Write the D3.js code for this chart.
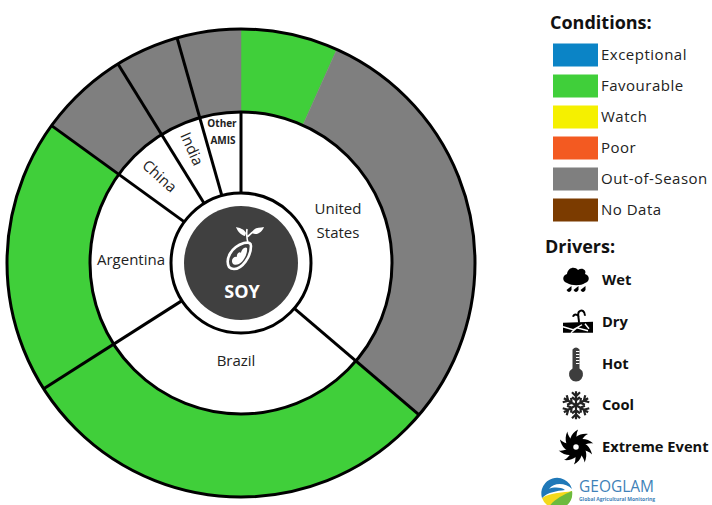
<!DOCTYPE html>
<html>
<head>
<meta charset="utf-8">
<script src="https://cdn.jsdelivr.net/npm/d3@7"></script>
<style>
  body { margin: 0; background: #fff; }
  text { font-family: "Open Sans", sans-serif; fill: #222; }
</style>
</head>
<body>
<svg id="chart" width="712" height="505"></svg>
<script>
// share of world soy production
var countries = ["United States", "Brazil", "Argentina", "China", "India", "Other AMIS"];
var shares = [36.2, 29.7, 19.0, 6.2, 4.4, 4.4];

// outer ring: condition pieces in clockwise order, same units as shares
var pieceConditions = ["Favourable", "Out-of-Season", "Favourable", "Favourable", "Out-of-Season", "Out-of-Season", "Out-of-Season"];
var pieceShares = [6.7, 29.5, 29.7, 19.0, 6.2, 4.4, 4.4];

var conditions = ["Exceptional", "Favourable", "Watch", "Poor", "Out-of-Season", "No Data"];
var conditionColors = ["#0b84c6", "#40cf3a", "#f5f000", "#f35a21", "#7f7f7f", "#7b3b00"];
var drivers = ["Wet", "Dry", "Hot", "Cool", "Extreme Event"];

var svg = d3.select("svg#chart");
var wheel = svg.append("g").attr("transform", "translate(241,263)");

var color = d3.scaleOrdinal().domain(conditions).range(conditionColors);
var pie = d3.pie().sort(null).value(function (d) { return d; });

var outerR = 234, midR = 151, innerR = 70, hubR = 57;

// rings
var outerArc = d3.arc().innerRadius(midR).outerRadius(outerR);
wheel.selectAll(".piece")
  .data(pie(pieceShares))
  .enter().append("path")
  .attr("class", "piece")
  .attr("d", outerArc)
  .attr("fill", function (d, i) { return color(pieceConditions[i]); })
  .attr("stroke", function (d, i) { return color(pieceConditions[i]); })
  .attr("stroke-width", 0.5);

var countryArcs = pie(shares);

// dividers between countries, the one at 12 o'clock stops at the inner ring
wheel.selectAll(".divider")
  .data(countryArcs)
  .enter().append("line")
  .attr("class", "divider")
  .attr("x1", function (d) { return d3.pointRadial(d.endAngle, innerR)[0]; })
  .attr("y1", function (d) { return d3.pointRadial(d.endAngle, innerR)[1]; })
  .attr("x2", function (d, i) { return d3.pointRadial(d.endAngle, i == 5 ? midR : outerR)[0]; })
  .attr("y2", function (d, i) { return d3.pointRadial(d.endAngle, i == 5 ? midR : outerR)[1]; })
  .attr("stroke", "#000")
  .attr("stroke-width", 3);

[outerR, midR, innerR].forEach(function (r) {
  wheel.append("circle").attr("r", r).attr("fill", "none").attr("stroke", "#000").attr("stroke-width", 3);
});
wheel.append("circle").attr("r", hubR).attr("fill", "#404040");

// country labels
function label(lines, x, y, size, rotate, weight) {
  var t = svg.append("text")
    .attr("text-anchor", "middle")
    .attr("font-size", size)
    .attr("font-weight", weight || 400)
    .attr("transform", "translate(" + x + "," + y + ") rotate(" + rotate + ")");
  lines.forEach(function (s, i) {
    t.append("tspan").attr("x", 0).attr("dy", i ? size * 1.6 : 0).text(s);
  });
}
label(["United", "States"], 338, 214, 15, 0);
label(["Brazil"], 236, 366, 15, 0);
label(["Argentina"], 131, 265, 15, 0);
label(["China"], 156, 180, 15, 42);
label(["India"], 187, 151, 15, 66);
label(["Other"], 222, 127, 10, 0, 700);
label(["AMIS"], 223, 144, 10, 0, 700);

// hub
svg.append("text").attr("x", 242).attr("y", 298).attr("text-anchor", "middle")
  .attr("font-size", 18).attr("font-weight", 700).style("fill", "#fff").text("SOY");

var soy = svg.append("g").attr("transform", "translate(240,255)");
soy.append("path")
  .attr("d", "M-11,12 C-15,4 -9,-8 4,-12 C9,-13 11,-12 11,-9 C11,2 2,14 -6,14 C-8,14 -10,13 -11,12 Z")
  .attr("fill", "none").attr("stroke", "#fff").attr("stroke-width", 2.6);
soy.append("path")
  .attr("d", "M-7,9 C-10,5 -6,1 -3,2 C-4,-1 0,-4 1,-2 C1,-5 5,-9 7,-7 C8,-1 3,7 -1,9 C-3,10 -6,10 -7,9 Z")
  .attr("fill", "#fff");
soy.append("path")
  .attr("d", "M8,-12 C7,-16 6,-20 7,-26 M7,-18 C10,-20 11,-22 13,-23")
  .attr("fill", "none").attr("stroke", "#fff").attr("stroke-width", 1.6);
soy.append("path").attr("d", "M12,-23 C15,-28 19,-27 24,-28 C22,-23 17,-19 12,-22 Z").attr("fill", "#fff");
soy.append("path").attr("d", "M5,-19 C0,-20 -3,-25 -4,-28 C0,-27 4,-26 6,-22 Z").attr("fill", "#fff");

// conditions legend
svg.append("text").attr("x", 550).attr("y", 29).attr("font-size", 18).attr("font-weight", 700)
  .style("fill", "#111").text("Conditions:");

var rowY = d3.scalePoint().domain(conditions).range([55, 210]);
svg.selectAll(".swatch")
  .data(conditions)
  .enter().append("rect")
  .attr("class", "swatch")
  .attr("x", 553)
  .attr("y", function (d) { return rowY(d) - 11.5; })
  .attr("width", 45)
  .attr("height", 23)
  .attr("fill", function (d) { return color(d); });
svg.selectAll(".cond-label")
  .data(conditions)
  .enter().append("text")
  .attr("class", "cond-label")
  .attr("x", 601)
  .attr("y", function (d) { return rowY(d) + 5; })
  .attr("font-size", 15)
  .attr("letter-spacing", 0.5)
  .text(function (d) { return d; });

// drivers legend
svg.append("text").attr("x", 545).attr("y", 253).attr("font-size", 18).attr("font-weight", 700)
  .style("fill", "#111").text("Drivers:");

var driverY = d3.scalePoint().domain(drivers).range([280, 447]);
svg.selectAll(".driver-label")
  .data(drivers)
  .enter().append("text")
  .attr("class", "driver-label")
  .attr("x", 602)
  .attr("y", function (d) { return driverY(d) + 5; })
  .attr("font-size", 14.7)
  .attr("font-weight", 700)
  .style("fill", "#111")
  .text(function (d) { return d; });

function icon(name) {
  return svg.append("g").attr("transform", "translate(576," + driverY(name) + ")");
}

// wet
var wet = icon("Wet");
wet.append("path")
  .attr("d", "M-9,3 C-14,2 -14,-5 -9,-6 C-8,-13 -1,-14 2,-10 C6,-13 11,-10 9,-6 C14,-5 14,2 9,3 C5,6 -4,6 -9,3 Z")
  .attr("fill", "#000");
[-7, 0, 7].forEach(function (x) {
  wet.append("path").attr("d", "M" + (x - 2.5) + ",10 L" + (x + 2.5) + ",6 L" + (x + 2.5) + ",10 Q" + x + ",14 " + (x - 2.5) + ",10 Z").attr("fill", "#000");
});

// dry
var dry = icon("Dry");
dry.append("path")
  .attr("d", "M-13,1 L17,0 L17,11 L-13,11 Z")
  .attr("fill", "#000");
dry.append("path").attr("d", "M-13,5 L-3,8 L6,3 M-5,11 L1,6 L12,9 M9,2 L13,7")
  .attr("fill", "none").attr("stroke", "#fff").attr("stroke-width", 1.4);
dry.append("path").attr("d", "M3,1 C3,-4 1,-8 3,-10 C6,-13 9,-10 9,-6 M3,-5 C1,-8 -2,-8 -3,-5")
  .attr("fill", "none").attr("stroke", "#000").attr("stroke-width", 2);

// hot
var hot = icon("Hot");
hot.append("path")
  .attr("d", "M-3.5,-14 Q0,-18 3.5,-14 L3.5,5 A7,7 0 1 1 -3.5,5 Z")
  .attr("fill", "#3d3d3d");
[-12, -9, -6, -3, 0].forEach(function (y) {
  hot.append("line").attr("x1", 0).attr("x2", 3.5).attr("y1", y).attr("y2", y).attr("stroke", "#fff").attr("stroke-width", 1);
});

// cool: six arms with small barbs
var cool = icon("Cool");
d3.range(6).forEach(function (i) {
  cool.append("path")
    .attr("transform", "rotate(" + i * 60 + ")")
    .attr("d", "M0,0 L0,-14 M-4,-13 L0,-9 L4,-13 M-4,-8 L0,-5 L4,-8")
    .attr("fill", "none").attr("stroke", "#222").attr("stroke-width", 2.2);
});

// extreme event: curved blades round an open eye
var extreme = icon("Extreme Event");
d3.range(10).forEach(function (i) {
  extreme.append("path")
    .attr("transform", "rotate(" + i * 36 + ")")
    .attr("d", "M-4,-3 C-3,-9 3,-14 12,-13 C8,-11 5,-7 4,-2 Z")
    .attr("fill", "#000");
});
extreme.append("circle").attr("r", 3.5).attr("fill", "#fff").attr("stroke", "#000").attr("stroke-width", 1.5);

// GEOGLAM logo
var logo = svg.append("g").attr("transform", "translate(557,494)");
logo.append("circle").attr("r", 16).attr("fill", "#fff");
logo.append("path").attr("d", "M-15,4 C-6,-2 6,-1 15,-3 A15.5,15.5 0 0 1 -15,4 Z").attr("fill", "#f3d91c");
logo.append("path").attr("d", "M-8,13 C-4,6 6,1 15,-3 A15.5,15.5 0 0 1 -8,13 Z").attr("fill", "#6cba3e");
logo.append("path").attr("d", "M-15,4 A15.5,15.5 0 0 1 15,-5 C9,-11 -3,-12 -8,-5 C-4,-7 4,-7 8,-4 C0,-3 -9,-2 -15,4 Z").attr("fill", "#1f78b8");
svg.append("text").attr("x", 579).attr("y", 492).attr("font-size", 15.5).style("fill", "#3f82b8").text("GEOGLAM");
svg.append("text").attr("x", 579).attr("y", 501).attr("font-size", 5).attr("font-weight", 700).style("fill", "#3f82b8").text("Global Agricultural Monitoring");
</script>
</body>
</html>
